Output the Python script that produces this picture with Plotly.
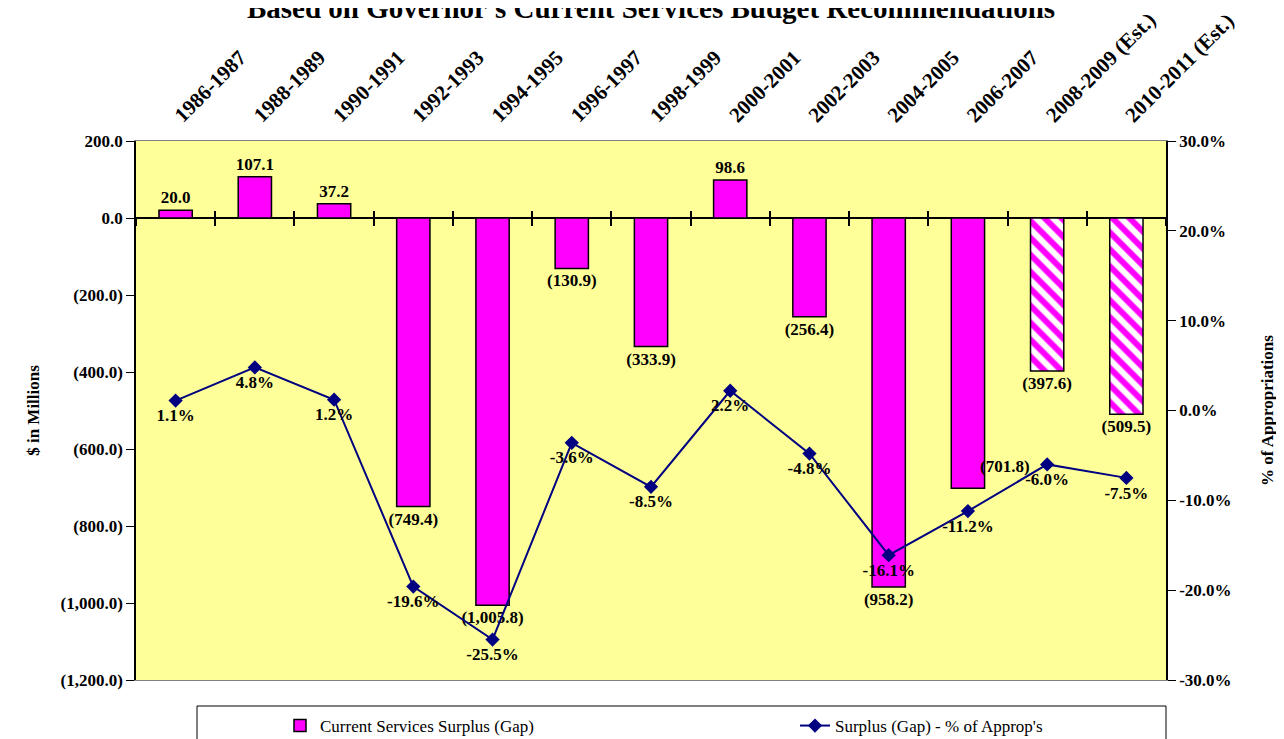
import plotly.graph_objects as go

years = ["1986-1987", "1988-1989", "1990-1991", "1992-1993", "1994-1995", "1996-1997",
         "1998-1999", "2000-2001", "2002-2003", "2004-2005", "2006-2007",
         "2008-2009 (Est.)", "2010-2011 (Est.)"]
surplus = [20.0, 107.1, 37.2, -749.4, -1005.8, -130.9, -333.9, 98.6, -256.4, -958.2, -701.8, -397.6, -509.5]
pct = [1.1, 4.8, 1.2, -19.6, -25.5, -3.6, -8.5, 2.2, -4.8, -16.1, -11.2, -6.0, -7.5]
estimated = [False] * 11 + [True, True]

left_ticks = [200, 0, -200, -400, -600, -800, -1000, -1200]
left_labels = ["200.0", "0.0", "(200.0)", "(400.0)", "(600.0)", "(800.0)", "(1,000.0)", "(1,200.0)"]
right_ticks = [30, 20, 10, 0, -10, -20, -30]


def fmt_money(v):
    s = f"{abs(v):,.1f}"
    return f"({s})" if v < 0 else s


FONT = "Liberation Serif, Times New Roman, serif"
MAGENTA = "#FF00FF"
NAVY = "#000080"
SHIFTED = 10  # the label Excel placed beside its bar

bar_text = [fmt_money(v) if i != SHIFTED else "" for i, v in enumerate(surplus)]

W, H = 1276, 731
L, T, PW, PH = 128, 133, 1030, 539

fig = go.Figure()
fig.add_trace(go.Bar(
    x=years, y=surplus, name="Current Services Surplus (Gap)",
    width=0.42,
    marker=dict(color=MAGENTA, line=dict(color="black", width=1.5),
                pattern=dict(shape=["\\" if e else "" for e in estimated],
                             fgcolor=MAGENTA, bgcolor="white", size=12, solidity=0.5,
                             fillmode="replace")),
    text=bar_text, textposition="outside", cliponaxis=False, constraintext="none",
    textfont=dict(family=FONT, size=17, color="black", weight="bold"),
    xaxis="x", yaxis="y",
))
fig.add_trace(go.Scatter(
    x=years, y=pct, name="Surplus (Gap) - % of Approp's", mode="lines+markers+text",
    line=dict(color=NAVY, width=2), marker=dict(symbol="diamond", size=11, color=NAVY),
    text=[f"{v:.1f}%" for v in pct], textposition="bottom center", cliponaxis=False,
    textfont=dict(family=FONT, size=17, color="black", weight="bold"),
    xaxis="x", yaxis="y2",
))
# empty helper traces so the zero-line tick axes get drawn
for ax in ("x2", "x3"):
    fig.add_trace(go.Scatter(x=[], y=[], xaxis=ax, yaxis="y", showlegend=False,
                             hoverinfo="skip", mode="markers"))

zero_pos = (0 - (-1200)) / (200 - (-1200))
n = len(years)


def px_x(p):
    return (p - 8 - L) / PW


def px_y(p):
    return (T + PH - (p - 8)) / PH


fig.update_layout(
    width=W, height=H,
    margin=dict(l=L, r=W - L - PW, t=T, b=H - T - PH, autoexpand=False),
    paper_bgcolor="white", plot_bgcolor="#FFFF99",
    font=dict(family=FONT, size=16, color="black"),
    title=dict(text="<b>Based on Governor's Current Services Budget Recommendations</b>",
               x=(651 - 8) / W, xanchor="center", y=1.0, yref="container", yanchor="middle",
               font=dict(family=FONT, size=29, color="black")),
    showlegend=True,
    legend=dict(orientation="h", x=px_x(280), xanchor="left",
                y=px_y(708), yanchor="top",
                entrywidth=470, entrywidthmode="pixels",
                font=dict(family=FONT, size=17, color="black"),
                bgcolor="rgba(0,0,0,0)", borderwidth=0, traceorder="normal"),
    xaxis=dict(type="category", side="top", range=[-0.5, n - 0.5],
               tickangle=-45, ticks="", showgrid=False, automargin=False,
               ticklabelstandoff=5,
               tickfont=dict(family=FONT, size=21, color="black", weight="bold"),
               showline=True, linecolor="#808080", linewidth=1, mirror=True),
    xaxis2=dict(overlaying="x", anchor="free", position=zero_pos, side="bottom",
                range=[-0.5, n - 0.5], tickmode="linear", tick0=-0.5, dtick=1,
                ticks="outside", ticklen=7, tickcolor="black", tickwidth=1.5,
                showticklabels=False, showgrid=False, zeroline=False, showline=False),
    xaxis3=dict(overlaying="x", anchor="free", position=zero_pos, side="bottom",
                range=[-0.5, n - 0.5], tickmode="linear", tick0=-0.5, dtick=1,
                ticks="inside", ticklen=7, tickcolor="black", tickwidth=1.5,
                showticklabels=False, showgrid=False, zeroline=False, showline=False),
    yaxis=dict(range=[-1200, 200], tickvals=left_ticks, ticktext=left_labels,
               ticks="outside", ticklen=8, tickcolor="black", showgrid=False,
               zeroline=True, zerolinecolor="black", zerolinewidth=1.5,
               showline=True, linecolor="black", linewidth=1.5, automargin=False,
               tickfont=dict(family=FONT, size=17, color="black", weight="bold"),
               title=dict(text="<b>$ in Millions</b>", standoff=17,
                          font=dict(family=FONT, size=17, color="black"))),
    yaxis2=dict(overlaying="y", side="right", anchor="x", range=[-30, 30],
                tickvals=right_ticks, ticktext=[f"{v:.1f}%" for v in right_ticks],
                ticks="outside", ticklen=8, tickcolor="black", showgrid=False,
                zeroline=False, showline=True, linecolor="black", linewidth=1.5,
                automargin=False,
                tickfont=dict(family=FONT, size=17, color="black", weight="bold"),
                title=dict(text="<b>% of Appropriations</b>", standoff=31,
                           font=dict(family=FONT, size=17, color="black"))),
    shapes=[dict(type="rect", xref="paper", yref="paper",
                 x0=px_x(197), x1=px_x(1166),
                 y0=px_y(760), y1=px_y(706),
                 line=dict(color="black", width=1), fillcolor="rgba(0,0,0,0)")],
    annotations=[dict(x=years[SHIFTED], y=surplus[SHIFTED], xref="x", yref="y",
                      text=fmt_money(surplus[SHIFTED]), showarrow=False,
                      xshift=37, yshift=22,
                      font=dict(family=FONT, size=17, color="black", weight="bold"))],
)

fig.write_html("out.html")
